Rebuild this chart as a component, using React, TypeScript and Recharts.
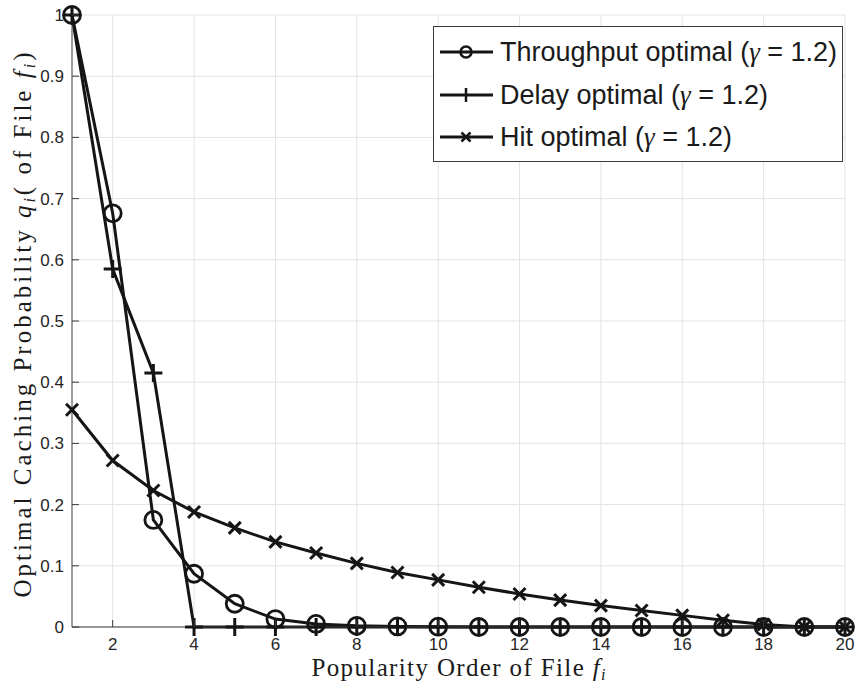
import { CartesianGrid, Legend, Line, LineChart, XAxis, YAxis } from "recharts";

const files = [1, 2, 3, 4, 5, 6, 7, 8, 9, 10, 11, 12, 13, 14, 15, 16, 17, 18, 19, 20];
const throughput = [1, 0.676, 0.175, 0.087, 0.038, 0.013, 0.005, 0.002, 0.001, 0.0005, 0, 0, 0, 0, 0, 0, 0, 0, 0, 0];
const delay = [1, 0.585, 0.415, 0, 0, 0, 0, 0, 0, 0, 0, 0, 0, 0, 0, 0, 0, 0, 0, 0];
const hit = [0.355, 0.272, 0.223, 0.188, 0.162, 0.139, 0.121, 0.104, 0.089, 0.077, 0.065, 0.054, 0.044, 0.035, 0.027, 0.019, 0.011, 0.004, 0, 0];
const xTicks = [2, 4, 6, 8, 10, 12, 14, 16, 18, 20];
const yTicks = [0, 0.1, 0.2, 0.3, 0.4, 0.5, 0.6, 0.7, 0.8, 0.9, 1];

const data = files.map((f, i) => ({ f, throughput: throughput[i], delay: delay[i], hit: hit[i] }));

const INK = "#151515";
const AXIS = "#3a3a3a";
const SANS = "'Liberation Sans', Arial, sans-serif";
const SERIF = "'Liberation Serif', 'Times New Roman', serif";

// MATLAB-style ticks: short marks pointing into the plot box
const BottomTick = ({ x, y, payload }: any) => (
    <g>
        <line x1={x} x2={x} y1={y} y2={y - 7} stroke={AXIS} />
        <text x={x} y={y + 23} textAnchor="middle" fontFamily={SANS} fontSize={17} fill="#262626">
            {payload.value}
        </text>
    </g>
);
const TopTick = ({ x, y }: any) => <line x1={x} x2={x} y1={y} y2={y + 7} stroke={AXIS} />;
const LeftTick = ({ x, y, payload }: any) => (
    <g>
        <line x1={x} x2={x + 7} y1={y} y2={y} stroke={AXIS} />
        <text x={x - 8} y={y + 6} textAnchor="end" fontFamily={SANS} fontSize={17} fill="#262626">
            {payload.value}
        </text>
    </g>
);
const RightTick = ({ x, y }: any) => <line x1={x} x2={x - 7} y1={y} y2={y} stroke={AXIS} />;

const circleDot = (r: number, sw: number) => (p: any) =>
    <circle key={`c${p.index}`} cx={p.cx} cy={p.cy} r={r} fill="none" stroke={INK} strokeWidth={sw} />;
const plusDot = (s: number, sw: number) => (p: any) => (
    <g key={`p${p.index}`} stroke={INK} strokeWidth={sw}>
        <line x1={p.cx - s} x2={p.cx + s} y1={p.cy} y2={p.cy} />
        <line x1={p.cx} x2={p.cx} y1={p.cy - s} y2={p.cy + s} />
    </g>
);
const crossDot = (s: number, sw: number) => (p: any) => (
    <g key={`x${p.index}`} stroke={INK} strokeWidth={sw}>
        <line x1={p.cx - s} x2={p.cx + s} y1={p.cy - s} y2={p.cy + s} />
        <line x1={p.cx - s} x2={p.cx + s} y1={p.cy + s} y2={p.cy - s} />
    </g>
);

const series = [
    { key: "throughput", name: "Throughput optimal", marker: "o" },
    { key: "delay", name: "Delay optimal", marker: "+" },
    { key: "hit", name: "Hit optimal", marker: "x" },
];

function LegendSample({ marker }: { marker: string }) {
    const cx = 26;
    const cy = 8;
    return (
        <svg width={54} height={16} style={{ display: "block", flex: "none" }}>
            <line x1={0} x2={53} y1={cy} y2={cy} stroke={INK} strokeWidth={3} />
            {marker === "o" && <circle cx={cx} cy={cy} r={5.5} fill="none" stroke={INK} strokeWidth={2.5} />}
            {marker === "+" && <line x1={cx} x2={cx} y1={cy - 7} y2={cy + 7} stroke={INK} strokeWidth={2.5} />}
            {marker === "x" && (
                <g stroke={INK} strokeWidth={2.5}>
                    <line x1={cx - 4.5} x2={cx + 4.5} y1={cy - 4.5} y2={cy + 4.5} />
                    <line x1={cx - 4.5} x2={cx + 4.5} y1={cy + 4.5} y2={cy - 4.5} />
                </g>
            )}
        </svg>
    );
}

function LegendBox() {
    return (
        <div
            style={{
                width: 410,
                height: 136,
                boxSizing: "border-box",
                border: `1px solid ${AXIS}`,
                background: "#fff",
                padding: "4px 0 0 6px",
            }}
        >
            {series.map((s) => (
                <div key={s.key} style={{ display: "flex", alignItems: "center", height: 42.5 }}>
                    <LegendSample marker={s.marker} />
                    <span style={{ marginLeft: 6, fontFamily: SANS, fontSize: 27, lineHeight: "30px", color: "#1a1a1a", whiteSpace: "nowrap" }}>
                        {s.name} (<span style={{ fontFamily: SERIF, fontStyle: "italic" }}>γ</span> = 1.2)
                    </span>
                </div>
            ))}
        </div>
    );
}

const YLabel = ({ viewBox }: any) => {
    const cx = viewBox.x + 31;
    const cy = viewBox.y + viewBox.height / 2 + 4;
    return (
        <text
            x={cx}
            y={cy}
            transform={`rotate(-90 ${cx} ${cy})`}
            textAnchor="middle"
            fontFamily={SERIF}
            fontSize={25}
            fill="#1a1a1a"
            textLength={545}
            lengthAdjust="spacing"
        >
            Optimal Caching Probability <tspan fontStyle="italic">q</tspan>
            <tspan fontStyle="italic" fontSize={16} dy={4}>i</tspan>
            <tspan dy={-4}>( of File </tspan>
            <tspan fontStyle="italic">f</tspan>
            <tspan fontStyle="italic" fontSize={16} dy={4}>i</tspan>
            <tspan dy={-4}>)</tspan>
        </text>
    );
};

const XLabel = ({ viewBox }: any) => {
    const cx = viewBox.x + viewBox.width / 2;
    const cy = viewBox.y + 49;
    return (
        <text
            x={cx}
            y={cy}
            textAnchor="middle"
            fontFamily={SERIF}
            fontSize={25}
            fill="#1a1a1a"
            textLength={294}
            lengthAdjust="spacing"
        >
            Popularity Order of File <tspan fontStyle="italic">f</tspan>
            <tspan fontStyle="italic" fontSize={16} dy={4}>i</tspan>
        </text>
    );
};

export default function App() {
    return (
        <div style={{ position: "absolute", left: 0, top: 0, background: "#fff" }}>
            <LineChart width={857} height={687} data={data} margin={{ top: 15, right: 12, left: 0, bottom: 0 }}>
                <CartesianGrid stroke="#e3e3e3" strokeWidth={1} horizontalValues={yTicks} verticalValues={xTicks} />
                <XAxis
                    dataKey="f"
                    type="number"
                    domain={[1, 20]}
                    ticks={xTicks}
                    height={60}
                    tickSize={0}
                    tickMargin={0}
                    tickLine={false}
                    tick={<BottomTick />}
                    axisLine={{ stroke: AXIS }}
                    label={{ content: XLabel }}
                />
                <XAxis
                    xAxisId="top"
                    orientation="top"
                    dataKey="f"
                    type="number"
                    domain={[1, 20]}
                    ticks={xTicks}
                    height={0}
                    tickSize={0}
                    tickMargin={0}
                    tickLine={false}
                    tick={<TopTick />}
                    axisLine={{ stroke: AXIS }}
                />
                <YAxis
                    type="number"
                    domain={[0, 1]}
                    ticks={yTicks}
                    width={72}
                    tickSize={0}
                    tickMargin={0}
                    tickLine={false}
                    tick={<LeftTick />}
                    axisLine={{ stroke: AXIS }}
                    label={{ content: YLabel }}
                />
                <YAxis
                    yAxisId="right"
                    orientation="right"
                    type="number"
                    domain={[0, 1]}
                    ticks={yTicks}
                    width={0}
                    tickSize={0}
                    tickMargin={0}
                    tickLine={false}
                    tick={<RightTick />}
                    axisLine={{ stroke: AXIS }}
                />
                <Line dataKey="hit" stroke={INK} strokeWidth={3} dot={crossDot(6, 3)} isAnimationActive={false} />
                <Line dataKey="delay" stroke={INK} strokeWidth={3} dot={plusDot(9, 3)} isAnimationActive={false} />
                <Line dataKey="throughput" stroke={INK} strokeWidth={3} dot={circleDot(8.5, 2.8)} isAnimationActive={false} />
                <Legend
                    layout="vertical"
                    align="center"
                    verticalAlign="middle"
                    wrapperStyle={{ top: 26, left: 433, width: 410 }}
                    content={() => <LegendBox />}
                />
            </LineChart>
        </div>
    );
}
